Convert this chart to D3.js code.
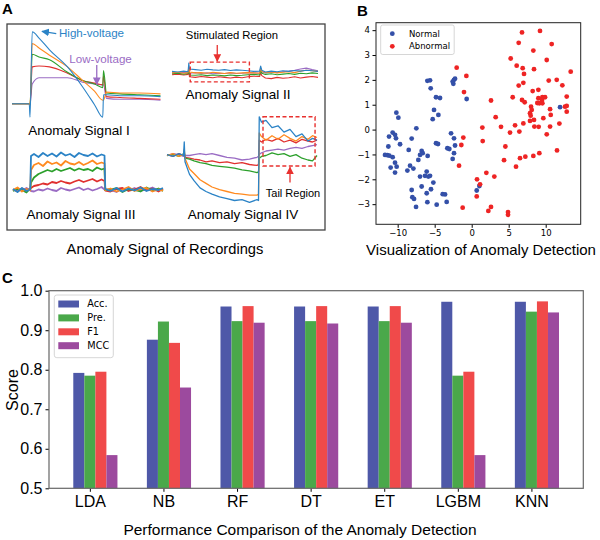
<!DOCTYPE html>
<html>
<head>
<meta charset="utf-8">
<script src="https://cdn.jsdelivr.net/npm/d3@7"></script>
<style>
  body { margin: 0; background: #fff; }
  text { font-family: "Liberation Sans", Arial, sans-serif; }
  .mpl text { font-family: "DejaVu Sans", sans-serif; }
</style>
</head>
<body>
<div id="chart"></div>
<script>
// ---------- Panel A: recordings (time 0-100, amplitude 0-100) ----------
const sig1Time = [0, 11.5, 12, 13.5, 18, 25, 37, 47, 55, 60.5, 61, 63, 72, 85, 99];
const sig1Blue = [18, 18, 3, 98, 91, 78, 59, 37, 17, 3, 28, 28, 27, 27, 26];
const sig1Orange = [18, 18, 16, 85, 80, 72, 59, 44, 32, 22, 22, 31, 30, 30, 29];
const sig1Green = [18, 18, 17, 73, 70, 67, 53, 44, 40, 36, 55, 30, 29, 28, 27];
const sig1Red = [18, 18, 17, 59, 60, 59, 52, 44, 41, 39, 49, 26, 25, 24, 23];
const sig1Purple = [18, 18, 17, 40, 47, 47, 47, 42, 40, 39, 39, 24, 23, 23, 22];

const sig2Time = [0, 4, 8, 11, 11.5, 12, 16, 20, 24, 28, 32, 36, 40, 44, 48, 52, 56, 60, 60.7, 61.5, 64, 68, 72, 76, 80, 84, 88, 92, 96, 100];
const sig2Blue = [62, 60, 63, 61, 90, 70, 68, 66, 69, 67, 66, 68, 65, 67, 66, 64, 62, 63, 80, 66, 60, 63, 61, 64, 62, 65, 63, 66, 64, 62];
const sig2Orange = [57, 59, 56, 58, 75, 60, 57, 58, 56, 59, 57, 55, 58, 56, 57, 58, 57, 56, 72, 62, 58, 60, 57, 59, 61, 58, 63, 66, 64, 62];
const sig2Green = [54, 56, 53, 55, 70, 50, 49, 51, 48, 50, 49, 47, 50, 48, 49, 51, 52, 50, 66, 56, 52, 54, 51, 53, 55, 52, 56, 54, 57, 55];
const sig2Red = [51, 53, 50, 52, 60, 44, 42, 45, 43, 41, 44, 42, 40, 43, 41, 44, 46, 45, 58, 48, 40, 38, 42, 39, 41, 44, 40, 43, 45, 42];
const sig2Purple = [58, 56, 59, 57, 72, 56, 58, 55, 57, 54, 56, 55, 57, 55, 56, 58, 57, 56, 70, 60, 57, 59, 58, 61, 63, 66, 70, 73, 68, 64];

const sig3Time = [0, 3, 6, 9, 11.5, 12, 14, 17, 20, 23, 26, 29, 32, 35, 38, 41, 44, 47, 50, 53, 56, 59, 61, 61.5, 65, 69, 73, 77, 81, 85, 89, 93, 97, 100];
const sig3Blue = [22, 16, 24, 18, 21, 88, 92, 86, 94, 88, 93, 87, 95, 89, 92, 86, 94, 90, 88, 93, 87, 91, 89, 22, 18, 24, 17, 23, 19, 25, 18, 22, 20, 24];
const sig3Orange = [20, 25, 17, 22, 19, 60, 70, 74, 68, 77, 72, 75, 69, 78, 73, 71, 76, 70, 74, 79, 72, 75, 73, 20, 23, 17, 21, 26, 18, 22, 24, 17, 21, 19];
const sig3Green = [18, 22, 20, 15, 23, 35, 45, 52, 56, 60, 57, 62, 58, 61, 64, 59, 63, 60, 62, 58, 65, 61, 63, 20, 21, 24, 16, 22, 20, 17, 25, 19, 23, 18];
const sig3Red = [21, 17, 23, 19, 22, 24, 28, 30, 33, 31, 36, 34, 38, 35, 33, 37, 40, 36, 39, 42, 37, 41, 38, 19, 17, 22, 24, 18, 21, 26, 19, 23, 17, 22];
const sig3Purple = [19, 23, 18, 24, 20, 18, 17, 21, 19, 23, 20, 18, 24, 21, 19, 22, 25, 20, 23, 19, 22, 26, 21, 21, 20, 16, 23, 19, 24, 18, 21, 25, 19, 22];

const sig4Time = [0, 4, 8, 11, 11.5, 12, 15, 18, 22, 26, 30, 35, 40, 45, 50, 55, 60, 61, 61.5, 63, 66, 70, 74, 78, 82, 86, 90, 94, 97, 100];
const sig4Blue = [56, 54, 57, 55, 70, 48, 34, 27, 19, 15, 12, 9, 7, 5, 6, 3, 6, 5, 98, 92, 94, 86, 88, 81, 84, 76, 79, 71, 74, 72];
const sig4Orange = [55, 57, 54, 56, 62, 52, 40, 35, 28, 24, 20, 17, 15, 13, 12, 11, 11, 12, 80, 76, 72, 77, 73, 78, 74, 71, 76, 73, 77, 75];
const sig4Green = [55, 56, 54, 57, 60, 52, 51, 49, 47, 46, 44, 43, 42, 41, 39, 38, 36, 37, 52, 54, 55, 58, 56, 57, 54, 56, 52, 50, 49, 55];
const sig4Red = [56, 54, 57, 55, 58, 53, 52, 51, 50, 48, 49, 47, 48, 46, 47, 45, 44, 45, 72, 70, 73, 71, 74, 70, 72, 69, 73, 71, 70, 72];
const sig4Purple = [55, 57, 56, 54, 56, 55, 55, 56, 57, 56, 57, 55, 53, 52, 50, 51, 53, 54, 56, 58, 60, 61, 62, 61, 63, 64, 63, 65, 66, 67];

const traceColors = ['#2b83c6', '#ff8a1f', '#2ca02c', '#e0302f', '#9a6cc4'];

// ---------- Panel B: 2-D embedding ----------
const normalX = [-5.99, -5.63, -5.54, -4.82, -4.28, -10.18, -9.91, -5.09, -4.50, -5.27, -2.57, -2.39, -2.25, -2.48, -0.68,
  -7.48, -11.17, -10.68, -10.36, -10.23, -9.68, -8.11, -11.26, -11.71, -11.40, -11.13, -10.68, -10.36, -10.95, -10.36,
  -10.14, -8.51, -6.76, -6.62, -6.98, -5.95, -7.21, -4.82, -4.55, -3.29, -3.02, -2.79, -2.39, -2.25, -2.39, -2.57,
  -8.33, -8.69, -7.88, -6.98, -6.31, -6.08, -5.86, -5.63, -5.18, -8.11, -8.02, -7.79, -7.52, -6.76, -6.08, -5.50,
  -5.99, -4.73, -3.60, -3.92, -3.38, 0.68, 1.04, 11.94];
const normalY = [1.96, 1.98, 1.66, 1.30, 1.27, 0.68, 0.48, 0.79, 0.59, 0.42, 1.93, 2.00, 2.05, 1.84, 1.23,
  0.05, -0.28, -0.12, -0.21, -0.35, -0.59, -0.36, -0.68, -1.02, -1.03, -1.05, -1.11, -1.33, -1.53, -1.73,
  -1.49, -0.82, -0.86, -0.95, -1.02, -1.06, -1.22, -0.55, -0.58, -0.75, -0.78, -0.15, -0.35, -0.64, -0.95, -1.18,
  -1.45, -1.65, -1.57, -1.89, -1.86, -1.69, -1.89, -1.86, -2.13, -2.43, -2.72, -2.79, -3.11, -2.29, -2.56, -2.40,
  -2.92, -3.02, -2.61, -2.60, -2.91, -2.45, -2.27, 0.90];
const abnormalX = [6.80, 9.23, 6.35, 10.81, 5.27, 8.33, 10.14, 6.08, 6.89, 8.42, 7.07, 13.38, 10.41, 11.49, 6.35,
  6.98, 8.24, 12.25, 9.01, 5.54, 6.80, 7.16, 12.84, 9.01, 9.55, 9.91, 9.50, 8.87, 9.14, 9.55, 8.02, 8.11, 10.59,
  12.61, 12.84, 7.88, 7.97, 12.84, 10.68, 9.68, 8.42, 6.98, 5.86, 7.88, 9.05, 10.59, 11.85, 5.18, 6.44, 8.47,
  10.14, 6.53, 7.25, 8.33, 9.14, 11.53, 5.99, -1.13, -1.40, 1.44, 1.49, 3.24, 2.61, 3.96, 4.55, 4.37, 1.98, 3.06,
  0.72, 1.13, 0.68, 2.61, 2.25, -1.22, -1.71, -0.72, -2.03, -1.04, 4.91, 4.91];
const abnormalY = [3.91, 3.97, 3.49, 3.44, 2.86, 3.18, 2.80, 2.57, 2.47, 2.43, 2.24, 2.33, 1.97, 2.00, 1.77,
  1.88, 1.55, 1.78, 1.60, 1.30, 1.19, 1.10, 1.33, 1.26, 1.30, 1.30, 1.19, 1.07, 1.06, 1.06, 0.92, 0.79, 0.82,
  0.92, 0.95, 0.66, 0.56, 0.72, 0.59, 0.46, 0.39, 0.25, 0.17, 0.35, 0.11, 0.12, 0.24, -0.12, -0.08, 0.12,
  -0.19, -1.15, -1.09, -1.06, -0.95, -0.84, -1.49, -0.32, -0.62, 0.08, -0.46, 0.50, 1.17, 0.11, -0.68, -1.23, -1.74, -1.89,
  -2.00, -2.20, -2.69, -3.11, -3.27, -3.14, -1.45, 2.16, 2.49, 1.51, -3.32, -3.43];
const embedXTicks = [-10, -5, 0, 5, 10];
const embedYTicks = [-3, -2, -1, 0, 1, 2, 3, 4];

// ---------- Panel C: scores ----------
const models = ['LDA', 'NB', 'RF', 'DT', 'ET', 'LGBM', 'KNN'];
const metrics = ['Acc.', 'Pre.', 'F1', 'MCC'];
const accScores = [0.792, 0.876, 0.960, 0.960, 0.960, 0.972, 0.972];
const preScores = [0.785, 0.922, 0.923, 0.923, 0.923, 0.785, 0.947];
const f1Scores = [0.795, 0.868, 0.961, 0.961, 0.961, 0.795, 0.973];
const mccScores = [0.584, 0.755, 0.919, 0.917, 0.919, 0.584, 0.945];
const scoreTicks = [0.5, 0.6, 0.7, 0.8, 0.9, 1.0];
const metricColors = ['#4e58a8', '#4aa84a', '#f04a4a', '#9c4a9e'];

const svg = d3.select('#chart').append('svg')
  .attr('width', 600)
  .attr('height', 540);

// arrow heads
const defs = svg.append('defs');
[['arrBlue', traceColors[0]], ['arrPurple', traceColors[4]], ['arrRed', '#e8312f']].forEach(([id, c]) => {
  defs.append('marker')
      .attr('id', id)
      .attr('viewBox', '0 0 10 10')
      .attr('refX', 9).attr('refY', 5)
      .attr('markerWidth', 6).attr('markerHeight', 6)
      .attr('orient', 'auto-start-reverse')
    .append('path')
      .attr('d', 'M0,0 L10,5 L0,10 z')
      .attr('fill', c);
});

// panel letters
[['A', 2, 14], ['B', 357, 16], ['C', 2, 283]].forEach(([t, x, y]) => {
  svg.append('text').attr('x', x).attr('y', y).text(t)
    .attr('font-size', 15).attr('font-weight', 'bold');
});

// ================= Panel A =================
const gA = svg.append('g');
gA.append('rect')
  .attr('x', 7).attr('y', 24).attr('width', 318).attr('height', 206)
  .attr('fill', 'none').attr('stroke', '#444').attr('stroke-width', 1.3);

const signals = [
  { time: sig1Time, traces: [sig1Blue, sig1Orange, sig1Green, sig1Red, sig1Purple], xr: [12, 162], yr: [120, 30], curve: d3.curveMonotoneX, sw: 1.1 },
  { time: sig2Time, traces: [sig2Blue, sig2Orange, sig2Green, sig2Red, sig2Purple], xr: [172, 318], yr: [90, 60], curve: d3.curveLinear, sw: 1.1 },
  { time: sig3Time, traces: [sig3Blue, sig3Orange, sig3Green, sig3Red, sig3Purple], xr: [13, 163], yr: [200, 150], curve: d3.curveLinear, sw: 1.8 },
  { time: sig4Time, traces: [sig4Blue, sig4Orange, sig4Green, sig4Red, sig4Purple], xr: [167, 317], yr: [205, 115], curve: d3.curveLinear, sw: 1.3 }
];

signals.forEach(s => {
  s.x = d3.scaleLinear().domain([0, 100]).range(s.xr);
  s.y = d3.scaleLinear().domain([0, 100]).range(s.yr);
  const line = d3.line()
    .x((d, i) => s.x(s.time[i]))
    .y(d => s.y(d))
    .curve(s.curve);
  // draw in reverse so blue sits on top like the original
  s.traces.map((v, k) => [v, k]).reverse().forEach(([v, k]) => {
    gA.append('path')
      .attr('d', line(v))
      .attr('fill', 'none')
      .attr('stroke', traceColors[k])
      .attr('stroke-width', s.sw)
      .attr('stroke-linejoin', 'round');
  });
});

const [s1, s2, s3, s4] = signals;

// signal I annotations
gA.append('line')
  .attr('x1', s1.x(29.5)).attr('y1', s1.y(96))
  .attr('x2', s1.x(20)).attr('y2', s1.y(98.5))
  .attr('stroke', traceColors[0]).attr('stroke-width', 1.3)
  .attr('marker-end', 'url(#arrBlue)');
gA.append('text').attr('x', s1.x(31.3)).attr('y', s1.y(92.5))
  .text('High-voltage').attr('font-size', 11.6).attr('fill', traceColors[0]);
gA.append('line')
  .attr('x1', s1.x(56.5)).attr('y1', s1.y(61))
  .attr('x2', s1.x(56.5)).attr('y2', s1.y(39.5))
  .attr('stroke', traceColors[4]).attr('stroke-width', 1.3)
  .attr('marker-end', 'url(#arrPurple)');
gA.append('text').attr('x', s1.x(38.2)).attr('y', s1.y(63.5))
  .text('Low-voltage').attr('font-size', 11.6).attr('fill', traceColors[4]);

// signal II annotations
gA.append('rect')
  .attr('x', s2.x(12.5)).attr('y', s2.y(93))
  .attr('width', s2.x(53) - s2.x(12.5)).attr('height', s2.y(27) - s2.y(93))
  .attr('fill', 'none').attr('stroke', '#e8312f').attr('stroke-width', 1.4)
  .attr('stroke-dasharray', '4,2.5');
gA.append('line')
  .attr('x1', s2.x(31)).attr('y1', s2.y(150))
  .attr('x2', s2.x(31)).attr('y2', s2.y(96))
  .attr('stroke', '#e8312f').attr('stroke-width', 1.3)
  .attr('marker-end', 'url(#arrRed)');
gA.append('text').attr('x', 232).attr('y', 39).attr('text-anchor', 'middle')
  .text('Stimulated Region').attr('font-size', 11.3);

// signal IV annotations
gA.append('rect')
  .attr('x', s4.x(64)).attr('y', s4.y(98))
  .attr('width', s4.x(98.7) - s4.x(64)).attr('height', s4.y(43.3) - s4.y(98))
  .attr('fill', 'none').attr('stroke', '#e8312f').attr('stroke-width', 1.4)
  .attr('stroke-dasharray', '4,2.5');
gA.append('line')
  .attr('x1', s4.x(82)).attr('y1', s4.y(25))
  .attr('x2', s4.x(82)).attr('y2', s4.y(42))
  .attr('stroke', '#e8312f').attr('stroke-width', 1.3)
  .attr('marker-end', 'url(#arrRed)');
gA.append('text').attr('x', 293).attr('y', 197).attr('text-anchor', 'middle')
  .text('Tail Region').attr('font-size', 11);

// sub-panel captions
[['Anomaly Signal I', 79, 135], ['Anomaly Signal II', 238, 99],
 ['Anomaly Signal III', 81, 219], ['Anomaly Signal IV', 243, 219]].forEach(([t, x, y]) => {
  gA.append('text').attr('x', x).attr('y', y).attr('text-anchor', 'middle')
    .attr('font-size', 13.5).text(t);
});
gA.append('text').attr('x', 165).attr('y', 254).attr('text-anchor', 'middle')
  .attr('font-size', 14.7).text('Anomaly Signal of Recordings');

// ================= Panel B =================
const gB = svg.append('g').attr('class', 'mpl');
const bx = d3.scaleLinear().domain([-12.93, 14.73]).range([376, 580.7]);
const by = d3.scaleLinear().domain([-3.81, 4.30]).range([224.3, 22.7]);

gB.append('g')
  .attr('transform', 'translate(0,224.3)')
  .call(d3.axisBottom(bx).tickValues(embedXTicks).tickSize(3.5).tickPadding(2.5))
  .call(g => g.select('.domain').remove())
  .call(g => g.selectAll('text').attr('font-size', 8.5).attr('font-family', 'DejaVu Sans'));
gB.append('g')
  .attr('transform', 'translate(376,0)')
  .call(d3.axisLeft(by).tickValues(embedYTicks).tickSize(3.5).tickPadding(2.5))
  .call(g => g.select('.domain').remove())
  .call(g => g.selectAll('text').attr('font-size', 8.5).attr('font-family', 'DejaVu Sans'));

gB.selectAll('.normal')
  .data(normalX)
  .enter().append('circle')
    .attr('cx', d => bx(d))
    .attr('cy', (d, i) => by(normalY[i]))
    .attr('r', 2.4)
    .attr('fill', '#3450a8');
gB.selectAll('.abnormal')
  .data(abnormalX)
  .enter().append('circle')
    .attr('cx', d => bx(d))
    .attr('cy', (d, i) => by(abnormalY[i]))
    .attr('r', 2.4)
    .attr('fill', '#ee2424');

gB.append('rect')
  .attr('x', 376).attr('y', 22.7).attr('width', 580.7 - 376).attr('height', 224.3 - 22.7)
  .attr('fill', 'none').attr('stroke', '#222').attr('stroke-width', 1);

// legend B
const lgB = gB.append('g');
lgB.append('rect').attr('x', 380.7).attr('y', 25).attr('width', 73.5).attr('height', 29.5)
  .attr('rx', 2).attr('fill', '#fff').attr('fill-opacity', 0.8).attr('stroke', '#ccc').attr('stroke-width', 0.8);
[['Normal', '#3450a8', 33.7], ['Abnormal', '#ee2424', 46.3]].forEach(([t, c, y]) => {
  lgB.append('circle').attr('cx', 392.3).attr('cy', y).attr('r', 2.4).attr('fill', c);
  lgB.append('text').attr('x', 409).attr('y', y).attr('dy', '0.35em')
    .attr('font-size', 8.5).text(t);
});

svg.append('text').attr('x', 481).attr('y', 255).attr('text-anchor', 'middle')
  .attr('font-size', 15).text('Visualization of Anomaly Detection');

// ================= Panel C =================
const gC = svg.append('g');
const barW = 0.15;
const cx = d3.scaleLinear().domain([-0.555, 6.705]).range([49, 583.3]);
const cy = d3.scaleLinear().domain([0.5, 1.0]).range([488.3, 290.7]);
const barSeries = [accScores, preScores, f1Scores, mccScores];

barSeries.forEach((vals, k) => {
  gC.selectAll('.bar' + k)
    .data(vals)
    .enter().append('rect')
      .attr('x', (d, i) => cx(i + (k - 1) * barW - barW / 2))
      .attr('y', d => cy(d))
      .attr('width', cx(barW) - cx(0))
      .attr('height', d => cy(0.5) - cy(d))
      .attr('fill', metricColors[k]);
});

gC.append('g')
  .attr('transform', 'translate(0,488.3)')
  .call(d3.axisBottom(cx).tickValues(d3.range(models.length)).tickFormat(i => models[i]).tickSize(3.5).tickPadding(4))
  .call(g => g.select('.domain').remove())
  .call(g => g.selectAll('text').attr('font-size', 16).attr('font-family', 'Liberation Sans'));
gC.append('g')
  .attr('transform', 'translate(49,0)')
  .call(d3.axisLeft(cy).tickValues(scoreTicks).tickFormat(d3.format('.1f')).tickSize(3.5).tickPadding(3))
  .call(g => g.select('.domain').remove())
  .call(g => g.selectAll('text').attr('font-size', 16).attr('font-family', 'Liberation Sans'));

gC.append('rect')
  .attr('x', 49).attr('y', 290.7).attr('width', 583.3 - 49).attr('height', 488.3 - 290.7)
  .attr('fill', 'none').attr('stroke', '#666').attr('stroke-width', 1.2);

gC.append('text')
  .attr('transform', 'translate(18,390) rotate(-90)')
  .attr('text-anchor', 'middle').attr('font-size', 16).text('Score');

// legend C
const lgC = gC.append('g').attr('class', 'mpl');
lgC.append('rect').attr('x', 54.3).attr('y', 295).attr('width', 59).attr('height', 62.7)
  .attr('rx', 2.5).attr('fill', '#fff').attr('fill-opacity', 0.8).attr('stroke', '#ccc').attr('stroke-width', 0.8);
metrics.forEach((m, k) => {
  const yy = 304 + k * 13.9;
  lgC.append('rect').attr('x', 58.3).attr('y', yy - 3.5).attr('width', 20.7).attr('height', 7)
    .attr('fill', metricColors[k]);
  lgC.append('text').attr('x', 87.3).attr('y', yy).attr('dy', '0.35em')
    .attr('font-size', 9.7).text(m);
});

svg.append('text').attr('x', 300).attr('y', 535).attr('text-anchor', 'middle')
  .attr('font-size', 15.5).text('Performance Comparison of the Anomaly Detection');
</script>
</body>
</html>
